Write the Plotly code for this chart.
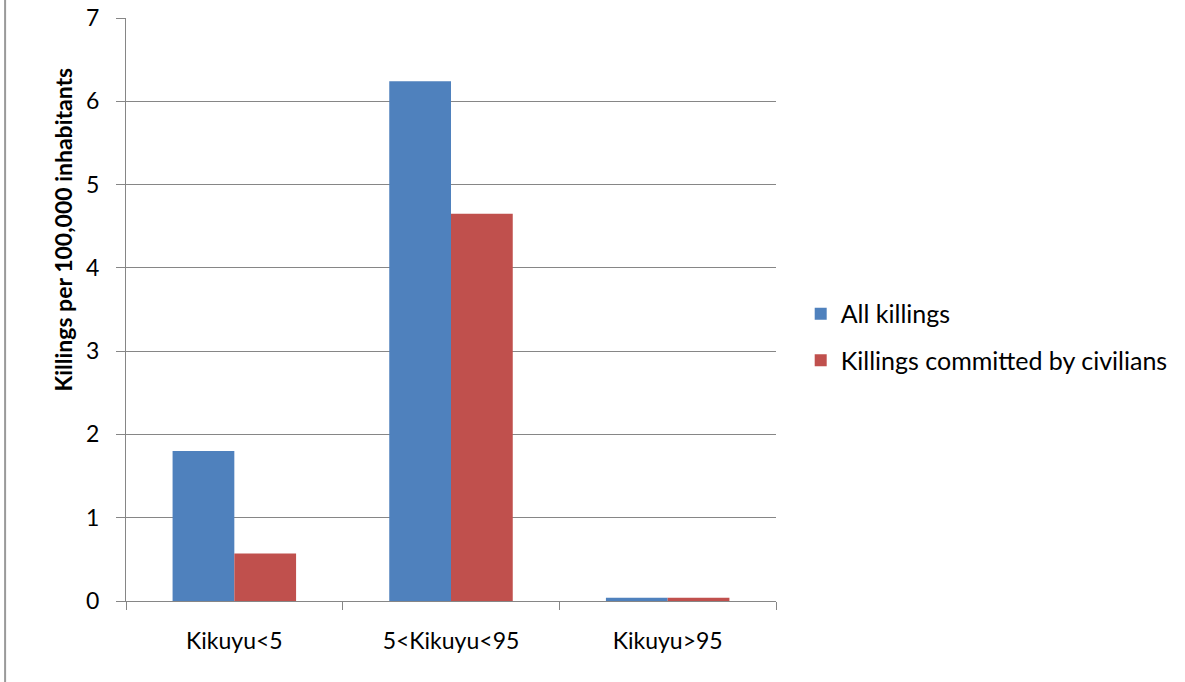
import plotly.graph_objects as go

categories = ["Kikuyu<5", "5<Kikuyu<95", "Kikuyu>95"]
all_killings = [1.80, 6.24, 0.04]
civilian_killings = [0.57, 4.65, 0.04]
series_names = ["All killings", "Killings committed by civilians"]
y_ticks = [0, 1, 2, 3, 4, 5, 6, 7]

FONT = "Lato, 'Open Sans', sans-serif"
GRID = "#868686"

fig = go.Figure()
fig.add_trace(go.Bar(x=categories, y=all_killings, name=series_names[0],
                     marker=dict(color="#4F81BD", line=dict(width=0)),
                     legendgroup="a"))
fig.add_trace(go.Bar(x=categories, y=civilian_killings, name=series_names[1],
                     marker=dict(color="#C0504D", line=dict(width=0)),
                     legendgroup="b"))

fig.update_layout(
    width=1185, height=682,
    margin=dict(l=126, r=409, t=18, b=81, autoexpand=False),
    paper_bgcolor="white", plot_bgcolor="white",
    barmode="group", bargap=0.43, bargroupgap=0,
    font=dict(family=FONT, color="black", size=23),
    legend=dict(x=1.038, xanchor="left", y=0.453, yanchor="middle",
                font=dict(size=25, family=FONT), tracegroupgap=11,
                itemwidth=30, bgcolor="rgba(0,0,0,0)"),
    xaxis=dict(type="category", showline=True, linecolor=GRID, linewidth=1,
               ticks="outside", ticklen=8, tickcolor=GRID, tickson="boundaries",
               tickfont=dict(size=23, family=FONT), showgrid=False,
               ticklabelstandoff=19, range=[-0.5, 2.5], automargin=False),
    yaxis=dict(range=[0, 7], tickvals=y_ticks, showgrid=True, gridcolor=GRID,
               gridwidth=1, showline=True, linecolor=GRID, linewidth=1,
               ticks="outside", ticklen=9, tickcolor=GRID,
               tickfont=dict(size=23, family=FONT), zeroline=False,
               ticklabelstandoff=12, automargin=False),
    annotations=[dict(text="<b>Killings per 100,000 inhabitants</b>",
                      xref="paper", yref="paper", x=-0.097, y=0.637,
                      xanchor="center", yanchor="middle", textangle=-90,
                      showarrow=False, font=dict(size=23, family=FONT))],
    shapes=[dict(type="line", xref="paper", yref="paper",
                 x0=-0.186, x1=-0.186, y0=-0.2, y1=1.05,
                 line=dict(color="#9a9a9a", width=2))],
)

fig.write_html("out.html")
